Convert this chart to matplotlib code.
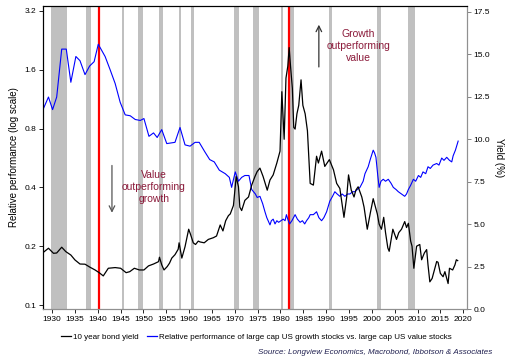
import matplotlib
matplotlib.use('Agg')
import matplotlib.pyplot as plt
from matplotlib.ticker import FixedLocator, FixedFormatter, NullLocator

plt.rcParams['font.family'] = ['Liberation Sans', 'DejaVu Sans']

# 성장/가치 상대성과 (log scale)
rel_years = [1928.0, 1929.2, 1930.1, 1931.0, 1932.1, 1933.1, 1934.1, 1935.2, 1936.1, 1937.2,
             1938.2, 1939.2, 1940.1, 1941.6, 1942.7, 1943.8, 1944.9, 1946.0, 1947.1, 1948.2,
             1949.3, 1950.1, 1951.2, 1952.2, 1953.0, 1954.0, 1955.1, 1956.9, 1958.0, 1959.1,
             1960.2, 1961.3, 1962.2, 1963.4, 1964.5, 1965.5, 1966.6, 1967.9, 1968.8, 1969.3,
             1970.1, 1970.8, 1971.5, 1972.2, 1973.1, 1973.7, 1974.5, 1974.9, 1975.5, 1976.1,
             1976.6, 1977.0, 1977.7, 1978.0, 1978.4, 1978.8, 1979.2, 1979.6, 1980.1, 1980.6,
             1981.0, 1981.3, 1981.7, 1982.0, 1982.5, 1983.2, 1983.7, 1984.3, 1984.8, 1985.3,
             1985.7, 1986.2, 1986.5, 1987.2, 1987.9, 1988.4, 1989.0, 1989.5, 1990.1, 1990.8,
             1991.4, 1991.9, 1992.4, 1993.0, 1993.5, 1994.1, 1994.7, 1995.2, 1995.8, 1996.3,
             1996.8, 1997.4, 1998.1, 1998.5, 1999.2, 1999.7, 2000.3, 2000.6, 2000.9, 2001.3,
             2001.6, 2002.0, 2002.5, 2003.0, 2003.6, 2004.2, 2004.7, 2005.3, 2005.8, 2006.5,
             2007.2, 2007.6, 2008.0, 2008.5, 2009.1, 2009.6, 2010.2, 2010.7, 2011.2, 2011.8,
             2012.3, 2012.8, 2013.4, 2014.2, 2014.7, 2015.3, 2015.8, 2016.4, 2017.0, 2017.5,
             2017.8, 2018.3, 2018.9]
rel_perf = [1.00, 1.16, 1.00, 1.16, 2.04, 2.04, 1.38, 1.87, 1.78, 1.51,
            1.67, 1.76, 2.16, 1.87, 1.60, 1.36, 1.09, 0.94, 0.93, 0.89,
            0.88, 0.90, 0.73, 0.76, 0.72, 0.79, 0.67, 0.68, 0.81, 0.66,
            0.65, 0.68, 0.68, 0.61, 0.555, 0.54, 0.49, 0.47, 0.45, 0.40,
            0.48, 0.43, 0.45, 0.46, 0.46, 0.39, 0.37, 0.355, 0.36, 0.33,
            0.30, 0.28, 0.257, 0.27, 0.275, 0.26, 0.27, 0.265, 0.27, 0.275,
            0.27, 0.29, 0.27, 0.26, 0.27, 0.29, 0.275, 0.265, 0.27, 0.26,
            0.27, 0.28, 0.29, 0.29, 0.30, 0.28, 0.27, 0.28, 0.30, 0.34,
            0.36, 0.38, 0.37, 0.36, 0.37, 0.36, 0.37, 0.37, 0.38, 0.38,
            0.39, 0.40, 0.43, 0.47, 0.51, 0.56, 0.62, 0.60, 0.57, 0.46,
            0.40, 0.43, 0.44, 0.43, 0.44, 0.42, 0.40, 0.39, 0.38, 0.37,
            0.36, 0.37, 0.39, 0.41, 0.44, 0.43, 0.46, 0.45, 0.48, 0.47,
            0.51, 0.50, 0.52, 0.53, 0.52, 0.565, 0.55, 0.57, 0.55, 0.54,
            0.58, 0.62, 0.69]

# 10년 국채 수익률 (%)
yld_years = [1928.0, 1929.2, 1930.3, 1931.0, 1932.1, 1933.0, 1934.1, 1935.0, 1936.1, 1937.2,
             1938.3, 1939.4, 1940.3, 1941.2, 1942.3, 1943.8, 1945.0, 1946.2, 1947.0, 1948.0,
             1949.1, 1950.1, 1951.1, 1952.2, 1953.3, 1953.5, 1954.0, 1954.5, 1955.2, 1955.7,
             1956.2, 1956.9, 1957.6, 1957.8, 1958.4, 1959.1, 1959.5, 1959.9, 1960.3, 1960.9,
             1961.4, 1962.0, 1962.4, 1963.3, 1964.2, 1965.3, 1966.0, 1966.8, 1967.4, 1968.0,
             1968.6, 1969.0, 1969.7, 1970.3, 1970.8, 1971.1, 1971.5, 1972.2, 1973.0, 1973.7,
             1974.4, 1974.9, 1975.5, 1976.2, 1977.1, 1977.7, 1978.4, 1979.2, 1979.9, 1980.3,
             1980.6, 1980.8, 1981.2, 1981.6, 1981.9, 1982.2, 1982.6, 1982.9, 1983.2, 1983.6,
             1984.0, 1984.5, 1984.9, 1985.4, 1985.9, 1986.5, 1987.2, 1987.9, 1988.3, 1989.0,
             1989.7, 1990.7, 1991.6, 1992.3, 1993.0, 1993.9, 1994.5, 1994.9, 1995.5, 1996.1,
             1996.5, 1997.0, 1997.8, 1998.3, 1999.0, 1999.7, 2000.3, 2001.2, 2001.6, 2002.1,
             2002.6, 2003.0, 2003.5, 2003.8, 2004.3, 2004.6, 2005.4, 2005.9, 2006.5, 2007.2,
             2007.6, 2008.0, 2008.5, 2008.8, 2009.2, 2009.8, 2010.5, 2010.9, 2011.5, 2012.0,
             2012.3, 2012.7, 2013.2, 2013.8, 2014.2, 2014.5, 2015.0, 2015.6, 2016.0, 2016.7,
             2017.0, 2017.7, 2018.2, 2018.5, 2018.8]
yld = [3.32, 3.58, 3.28, 3.30, 3.64, 3.38, 3.18, 2.89, 2.65, 2.64,
       2.46, 2.30, 2.14, 1.95, 2.40, 2.44, 2.40, 2.14, 2.20, 2.40,
       2.30, 2.30, 2.54, 2.65, 2.79, 3.05, 2.60, 2.30, 2.50, 2.70,
       3.00, 3.20, 3.52, 3.90, 3.00, 3.67, 4.20, 4.70, 4.40, 3.90,
       3.80, 4.00, 3.95, 3.90, 4.10, 4.20, 4.30, 4.95, 4.60, 5.20,
       5.50, 5.60, 6.10, 7.80, 7.20, 6.00, 5.80, 6.40, 6.60, 7.30,
       7.80, 8.10, 8.30, 7.80, 7.00, 7.60, 7.90, 8.60, 9.30, 12.8,
       11.1, 10.0, 13.6, 14.3, 15.4, 14.3, 13.0, 10.7, 10.6, 11.5,
       12.0, 13.5, 12.0, 11.5, 10.5, 7.40, 7.30, 9.00, 8.60, 9.30,
       8.40, 8.80, 8.20, 7.40, 7.10, 5.40, 6.60, 7.90, 7.00, 6.60,
       7.00, 7.20, 6.60, 6.00, 4.70, 5.70, 6.50, 5.60, 5.00, 4.70,
       5.40, 4.50, 3.60, 3.40, 4.20, 4.70, 4.10, 4.50, 4.70, 5.15,
       4.80, 5.05, 4.00, 3.70, 2.40, 3.70, 3.80, 2.90, 3.30, 3.50,
       2.60, 1.60, 1.80, 2.40, 2.80, 2.75, 2.10, 1.90, 2.20, 1.50,
       2.40, 2.30, 2.60, 2.90, 2.85]

# 경기침체 구간 (음영)
rec_start = [1929.7, 1937.4, 1945.2, 1948.9, 1953.5, 1957.7, 1960.3, 1969.9, 1973.9, 1980.1, 1981.6, 1990.6, 2001.2, 2007.9]
rec_end = [1933.2, 1938.5, 1945.8, 1949.8, 1954.3, 1958.3, 1961.1, 1970.9, 1975.2, 1980.6, 1982.9, 1991.2, 2001.9, 2009.5]

# 빨간 세로선
red_years = [1940.3, 1981.9]

x_ticks = list(range(1930, 2021, 5))
left_ticks = [0.1, 0.2, 0.4, 0.8, 1.6, 3.2]
left_labels = ['0.1', '0.2', '0.4', '0.8', '1.6', '3.2']
right_ticks = [0.0, 2.5, 5.0, 7.5, 10.0, 12.5, 15.0, 17.5]

fig = plt.figure(figsize=(5.13, 3.62), dpi=100)
ax = fig.add_axes([0.0838, 0.1464, 0.8262, 0.837])
ax2 = ax.twinx()

for s, e in zip(rec_start, rec_end):
    ax.axvspan(s, e, color='#c0c0c0', lw=0, zorder=0)
for yr in red_years:
    ax.axvline(yr, color='#ff0000', lw=1.6, zorder=1)

ax.plot(rel_years, rel_perf, color='#0000ff', lw=0.8, zorder=2)
ax2.plot(yld_years, yld, color='black', lw=0.9)

ax.set_yscale('log')
ax.set_ylim(0.0954, 3.39)
ax.yaxis.set_major_locator(FixedLocator(left_ticks))
ax.yaxis.set_major_formatter(FixedFormatter(left_labels))
ax.yaxis.set_minor_locator(NullLocator())
ax.set_xlim(1928, 2020.8)
ax.set_xticks(x_ticks)
ax2.set_ylim(0, 17.85)
ax2.set_yticks(right_ticks)
ax2.set_yticklabels([f'{v:.1f}' for v in right_ticks])

for a in (ax, ax2):
    a.tick_params(labelsize=6, length=3, width=0.6, pad=2)
    a.spines['left'].set_color('black')
    a.spines['top'].set_color('black')
    a.spines['right'].set_color('#909090')
    a.spines['bottom'].set_color('#909090')
ax2.tick_params(axis='y', color='#707070')

ax.set_ylabel('Relative performance (log scale)', fontsize=7, labelpad=4)
ax2.set_ylabel('Yield (%)', fontsize=7, rotation=270, labelpad=10)

# 주석
ax.annotate('', xy=(1943.1, 0.287), xytext=(1943.1, 0.535),
            arrowprops=dict(arrowstyle='->', color='#555555', lw=0.9))
ax.text(1952.3, 0.40, 'Value\noutperforming\ngrowth', color='#8b1a3a', fontsize=7.5,
        ha='center', va='center', linespacing=1.25)
ax.annotate('', xy=(1988.4, 2.81), xytext=(1988.4, 1.6),
            arrowprops=dict(arrowstyle='->', color='#333333', lw=0.9))
ax.text(1997.0, 2.12, 'Growth\noutperforming\nvalue', color='#8b1a3a', fontsize=7.5,
        ha='center', va='center', linespacing=1.25)

# 범례
h1, = ax.plot([], [], color='black', lw=0.9)
h2, = ax.plot([], [], color='#0000ff', lw=0.9)
fig.legend([h1, h2], ['10 year bond yield',
                      'Relative performance of large cap US growth stocks vs. large cap US value stocks'],
           loc='center', bbox_to_anchor=(0.5, 0.069), ncol=2, frameon=False, fontsize=5.8,
           handlelength=1.2, handletextpad=0.3, columnspacing=1.0)

fig.text(0.959, 0.025, 'Source: Longview Economics, Macrobond, Ibbotson & Associates',
         fontsize=5.8, style='italic', color='#202050', ha='right', va='center')

plt.savefig('out.png', dpi=100)
plt.close(fig)
